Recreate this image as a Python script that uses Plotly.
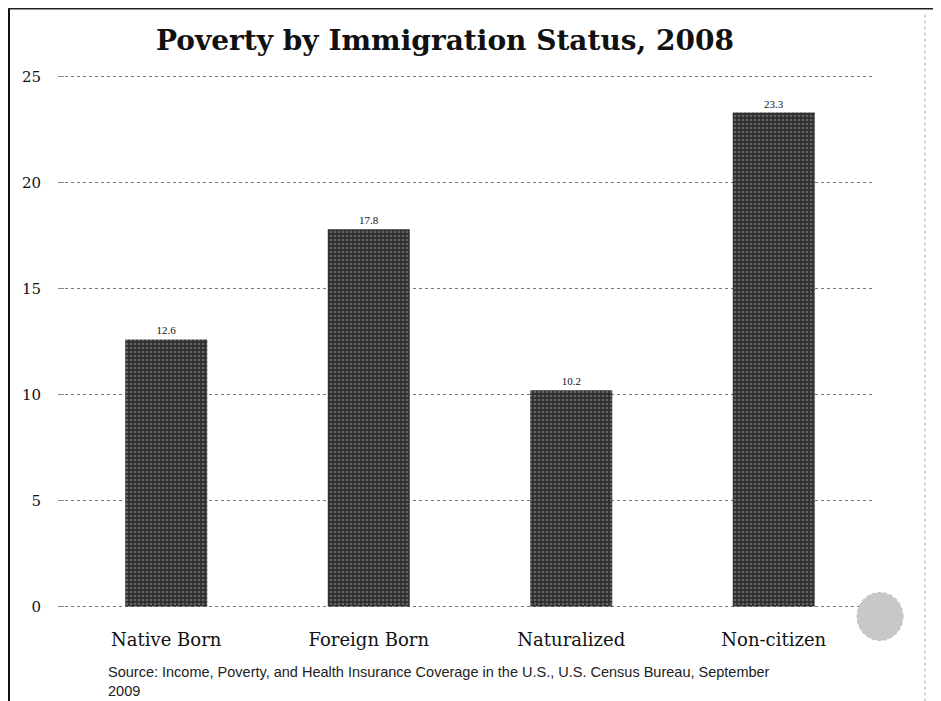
import plotly.graph_objects as go

categories = ["Native Born", "Foreign Born", "Naturalized", "Non-citizen"]
poverty_rate = [12.6, 17.8, 10.2, 23.3]
y_ticks = [0, 5, 10, 15, 20, 25]

# page has an 8px body margin, so figure coords = screen coords - 8
OFF = 8
W, H = 941 - OFF, 701 - OFF
YMIN, YMAX = -0.12, 25.12
UNIT = 529 / 25.0
L = 65 - OFF
PW = 810
PH = (YMAX - YMIN) * UNIT
T = 77 - (YMAX - 25) * UNIT - OFF
R = W - L - PW
B = H - T - PH

def px(x):
    return (x - OFF - L) / PW

def py(y):
    return (H - B - (y - OFF)) / PH

fig = go.Figure()
fig.add_trace(go.Bar(
    x=categories,
    y=poverty_rate,
    text=[f"{v:.1f}" for v in poverty_rate],
    textposition="outside",
    textfont=dict(family="Liberation Serif", size=11, color="#111"),
    cliponaxis=False,
    marker=dict(
        color="#2e2e2e",
        line=dict(width=0),
        pattern=dict(shape=".", fgcolor="#9a9a9a", size=4, solidity=0.35, fillmode="overlay"),
    ),
    showlegend=False,
))

fig.update_layout(
    width=W, height=H,
    margin=dict(l=L, r=R, t=T, b=B, autoexpand=False),
    paper_bgcolor="white",
    plot_bgcolor="white",
    bargap=0.595,
    title=dict(
        text="<b>Poverty by Immigration Status, 2008</b>",
        font=dict(family="DejaVu Serif", size=28, color="#111"),
        x=(445 - OFF) / W, xanchor="center", xref="container",
        y=1 - (40 - OFF) / H, yanchor="middle", yref="container",
    ),
    xaxis=dict(
        showgrid=False, showline=False, zeroline=False,
        tickfont=dict(family="DejaVu Serif", size=18, color="#111"),
        ticks="", ticklabelstandoff=18,
    ),
    yaxis=dict(
        range=[YMIN, YMAX], tickvals=y_ticks,
        showgrid=True, gridcolor="#777", griddash="dot", gridwidth=1,
        zeroline=False, showline=False,
        ticks="outside", ticklen=6, tickcolor="#888",
        tickfont=dict(family="DejaVu Serif", size=15, color="#111"),
        ticklabelstandoff=14,
    ),
    font=dict(family="Liberation Serif", color="#111"),
    annotations=[dict(
        text="Source: Income, Poverty, and Health Insurance Coverage in the U.S., U.S. Census Bureau, September<br>2009",
        xref="paper", yref="paper",
        x=px(106), y=py(661),
        xanchor="left", yanchor="top", align="left", showarrow=False,
        font=dict(family="Liberation Sans", size=14.5, color="#222"),
    )],
    shapes=[
        dict(type="line", xref="paper", yref="paper", x0=px(OFF + 1), x1=px(OFF + 1),
             y0=py(701), y1=py(OFF), line=dict(color="#111", width=2)),
        dict(type="line", xref="paper", yref="paper", x0=px(OFF), x1=px(935),
             y0=py(OFF + 1), y1=py(OFF + 1), line=dict(color="#222", width=2)),
        dict(type="line", xref="paper", yref="paper", x0=px(925), x1=px(925),
             y0=py(701), y1=py(12), line=dict(color="#aaa", width=1, dash="dot")),
        dict(type="circle", xref="paper", yref="paper",
             x0=px(857), x1=px(903), y0=py(640), y1=py(592),
             fillcolor="#c8c8c8", line=dict(color="#bbb", width=1, dash="dot")),
    ],
)

fig.write_html("out.html")
